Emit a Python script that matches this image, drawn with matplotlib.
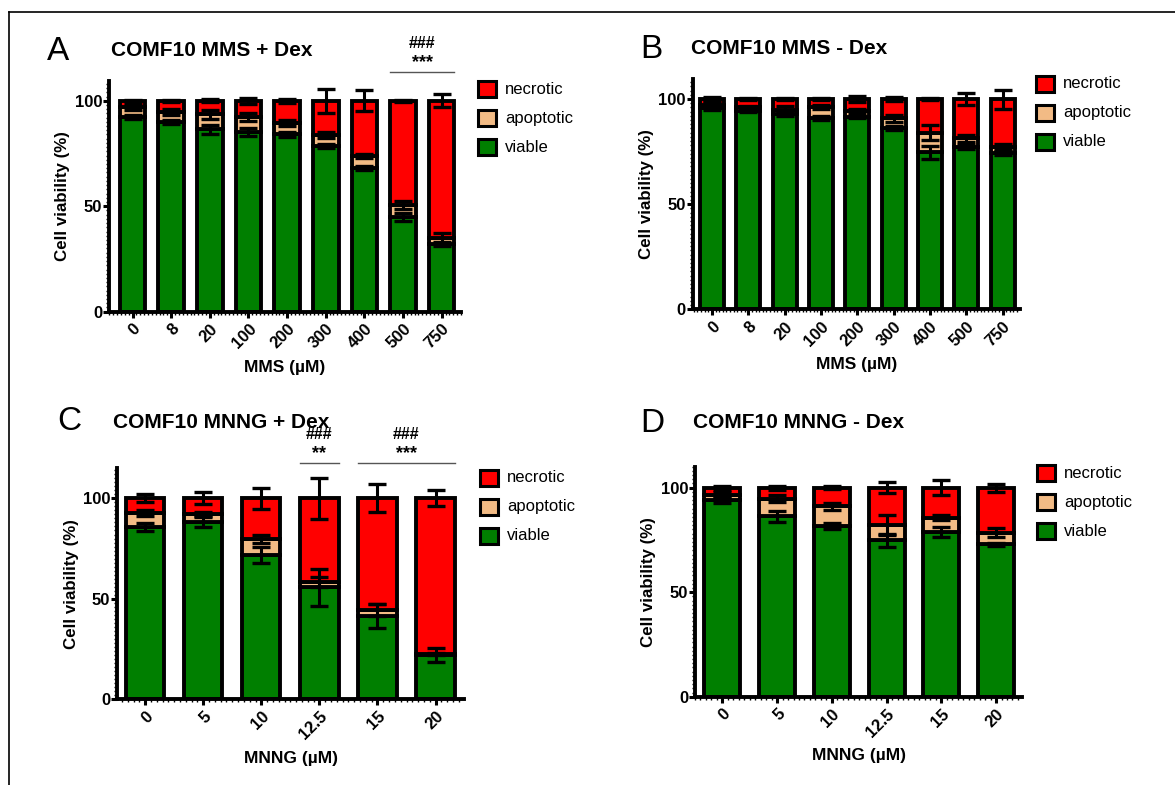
import numpy as np
import matplotlib.pyplot as plt
from matplotlib.patches import Rectangle
from matplotlib.ticker import MultipleLocator

plt.rcParams["font.family"] = ["Liberation Sans", "DejaVu Sans"]

# -- Data ---------------------------------------------------------------------

mms_doses = ["0", "8", "20", "100", "200", "300", "400", "500", "750"]
mnng_doses = ["0", "5", "10", "12.5", "15", "20"]
legend_labels = ["necrotic", "apoptotic", "viable"]

# A: MMS + Dex
a_viable = [92.4, 90.0, 86.4, 85.3, 84.0, 78.5, 68.2, 45.0, 32.0]
a_apoptotic = [4.4, 4.8, 7.1, 7.1, 5.6, 5.2, 5.6, 5.5, 2.8]
a_necrotic = [3.2, 5.2, 6.5, 7.6, 10.4, 16.3, 26.2, 49.5, 65.2]
a_viable_sd = [1.0, 1.0, 2.0, 2.0, 1.0, 1.0, 1.0, 1.9, 1.0]
a_apoptotic_sd = [1.0, 1.5, 2.0, 2.0, 1.5, 1.3, 1.0, 1.9, 2.5]
a_necrotic_sd = [0.5, 0.5, 0.8, 1.4, 1.0, 5.8, 4.9, 0.5, 3.0]

# B: MMS - Dex
b_viable = [95.6, 94.3, 92.9, 91.1, 91.6, 86.1, 74.6, 77.3, 74.2]
b_apoptotic = [1.5, 1.7, 1.9, 5.3, 2.7, 4.7, 9.4, 4.0, 3.1]
b_necrotic = [2.9, 4.0, 5.2, 3.6, 5.7, 9.2, 16.0, 18.7, 22.7]
b_viable_sd = [1.0, 0.5, 1.0, 1.0, 0.5, 1.0, 3.0, 1.0, 1.0]
b_apoptotic_sd = [1.5, 0.8, 2.0, 1.0, 1.0, 1.5, 3.5, 1.5, 1.5]
b_necrotic_sd = [0.8, 0.5, 0.5, 0.5, 1.5, 0.8, 0.3, 3.0, 4.5]

# C: MNNG + Dex
c_viable = [85.9, 88.4, 71.8, 55.6, 41.4, 21.9]
c_apoptotic = [7.0, 3.8, 7.8, 2.9, 3.0, 0.6]
c_necrotic = [7.1, 7.8, 20.4, 41.5, 55.6, 77.5]
c_viable_sd = [2.0, 2.5, 4.2, 9.3, 5.8, 3.7]
c_apoptotic_sd = [1.5, 1.2, 2.0, 2.5, 3.2, 0.5]
c_necrotic_sd = [2.0, 3.0, 5.3, 10.3, 7.0, 4.0]

# D: MNNG - Dex
d_viable = [94.0, 86.3, 81.5, 74.8, 78.7, 72.8]
d_apoptotic = [2.3, 8.4, 9.5, 7.5, 7.0, 5.7]
d_necrotic = [3.7, 5.3, 9.0, 17.7, 14.3, 21.5]
d_viable_sd = [1.5, 2.6, 1.5, 3.2, 2.4, 0.8]
d_apoptotic_sd = [1.5, 1.6, 1.8, 4.8, 1.2, 2.2]
d_necrotic_sd = [1.0, 1.0, 0.8, 2.7, 3.5, 1.9]

GREEN = "#007f00"
TAN = "#f2bb85"
RED = "#ff0000"

W, H = 1175, 785
fig = plt.figure(figsize=(W / 100, H / 100), dpi=100)


def px_rect(x0, x1, ytop, ybot):
    return [x0 / W, 1 - ybot / H, (x1 - x0) / W, (ybot - ytop) / H]


def legend_px(x, y):
    # x = left edge of patch, y = centre of first entry (pixels from top)
    for i, (lab, col) in enumerate(zip(legend_labels, [RED, TAN, GREEN])):
        yc = y + i * 29
        fig.add_artist(Rectangle((x / W, 1 - (yc + 8) / H), 18 / W, 16 / H,
                                 facecolor=col, edgecolor="black",
                                 linewidth=2.2, transform=fig.transFigure))
        fig.text((x + 27) / W, 1 - yc / H, lab, fontsize=12, va="center",
                 ha="left")


def panel(rect, doses, viable, apop, necr, v_sd, a_sd, n_sd, xlim, ylim,
          xlabel):
    ax = fig.add_axes(rect)
    x = np.arange(len(doses))
    v = np.array(viable)
    a = np.array(apop)
    n = np.array(necr)
    kw = dict(width=0.66, edgecolor="black", linewidth=2.8, zorder=2)
    ax.bar(x, v, color=GREEN, **kw)
    ax.bar(x, a, bottom=v, color=TAN, **kw)
    ax.bar(x, n, bottom=v + a, color=RED, **kw)
    ekw = dict(fmt="none", ecolor="black", elinewidth=2.2, capsize=6.5,
               capthick=2.4, zorder=3)
    ax.errorbar(x, v, yerr=v_sd, **ekw)
    ax.errorbar(x, v + a, yerr=a_sd, **ekw)
    ax.errorbar(x, v + a + n, yerr=n_sd, **ekw)

    ax.set_xlim(*xlim)
    ax.set_ylim(*ylim)
    ax.set_xticks(x)
    ax.set_xticklabels(doses, rotation=45, ha="right", rotation_mode="anchor",
                       fontsize=12, fontweight="bold")
    ax.set_yticks([0, 50, 100])
    ax.set_yticklabels(["0", "50", "100"], fontsize=12, fontweight="bold")
    ax.yaxis.set_minor_locator(MultipleLocator(2))
    ax.xaxis.set_minor_locator(MultipleLocator(0.1))
    ax.tick_params(which="major", length=4, width=2.2)
    ax.tick_params(axis="y", which="major", pad=1)
    ax.tick_params(axis="x", which="major", pad=3)
    ax.tick_params(which="minor", length=2, width=1)
    for s in ["top", "right"]:
        ax.spines[s].set_visible(False)
    for s in ["left", "bottom"]:
        ax.spines[s].set_linewidth(2.8)
    ax.set_ylabel("Cell viability (%)", fontsize=12.2, fontweight="bold",
                  labelpad=3)
    ax.set_xlabel(xlabel, fontsize=12.5, fontweight="bold", labelpad=6)
    return ax


ax_a = panel(px_rect(109, 461, 80.7, 311.7), mms_doses, a_viable, a_apoptotic,
             a_necrotic, a_viable_sd, a_apoptotic_sd, a_necrotic_sd,
             (-0.61, 8.5), (0, 109.5), "MMS (µM)")
ax_b = panel(px_rect(692.7, 1020, 79.3, 309.3), mms_doses, b_viable,
             b_apoptotic, b_necrotic, b_viable_sd, b_apoptotic_sd,
             b_necrotic_sd, (-0.53, 8.48), (0, 109.4), "MMS (µM)")
ax_c = panel(px_rect(117.3, 464, 468.3, 699), mnng_doses, c_viable,
             c_apoptotic, c_necrotic, c_viable_sd, c_apoptotic_sd,
             c_necrotic_sd, (-0.48, 5.49), (0, 115), "MNNG (µM)")
ax_d = panel(px_rect(695, 1022.3, 466.7, 696.7), mnng_doses, d_viable,
             d_apoptotic, d_necrotic, d_viable_sd, d_apoptotic_sd,
             d_necrotic_sd, (-0.5, 5.48), (0, 110), "MNNG (µM)")

legend_px(478, 89)
legend_px(1036, 84)
legend_px(480, 478)
legend_px(1037, 473)

# -- Panel letters and titles -------------------------------------------------

for letter, lx, tx, ty, title in [
        ("A", 47, 111, 51, "COMF10 MMS + Dex"),
        ("B", 640, 691, 49, "COMF10 MMS - Dex"),
        ("C", 57, 113, 422, "COMF10 MNNG + Dex"),
        ("D", 640, 693, 423, "COMF10 MNNG - Dex")]:
    fig.text(lx / W, 1 - ty / H, letter, fontsize=24, va="center", ha="left")
    fig.text(tx / W, 1 - ty / H, title, fontsize=15, fontweight="bold",
             va="center", ha="left")

# -- Significance marks -------------------------------------------------------


def sig(ax, x0, x1, y, stars):
    ax.plot([x0, x1], [y, y], color="#555555", lw=1.0, clip_on=False)
    xm = (x0 + x1) / 2
    ax.annotate(stars, (xm, y), xytext=(0, 1), textcoords="offset points",
                ha="center", va="bottom", fontsize=13, fontweight="bold",
                annotation_clip=False)
    ax.annotate("###", (xm, y), xytext=(0, 15), textcoords="offset points",
                ha="center", va="bottom", fontsize=11.5, fontweight="bold",
                annotation_clip=False)


sig(ax_a, 6.67, 8.33, 113.5, "***")
sig(ax_c, 2.67, 3.33, 117.5, "**")
sig(ax_c, 3.67, 5.33, 117.5, "***")

# -- Frame lines (left and top only) ------------------------------------------

fig.add_artist(plt.Line2D([9 / W, 9 / W], [0, 1 - 12 / H], color="black",
                          lw=1.2, transform=fig.transFigure))
fig.add_artist(plt.Line2D([9 / W, 1], [1 - 12 / H, 1 - 12 / H],
                          color="black", lw=1.2, transform=fig.transFigure))

fig.savefig("out.png", dpi=100)
